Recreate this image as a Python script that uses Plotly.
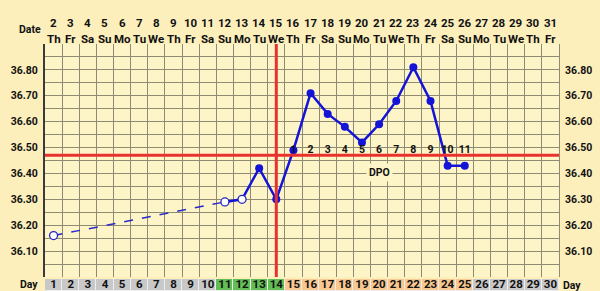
import plotly.graph_objects as go

# ---- data ----
days = list(range(1, 31))
dates = list(range(2, 32))
weekdays = ["Th", "Fr", "Sa", "Su", "Mo", "Tu", "We", "Th", "Fr", "Sa", "Su", "Mo", "Tu", "We",
            "Th", "Fr", "Sa", "Su", "Mo", "Tu", "We", "Th", "Fr", "Sa", "Su", "Mo", "Tu", "We", "Th", "Fr"]
temp_days = [1, 11, 12, 13, 14, 15, 16, 17, 18, 19, 20, 21, 22, 23, 24, 25]
temps = [36.16, 36.29, 36.30, 36.42, 36.30, 36.49, 36.71, 36.63, 36.58, 36.52, 36.59, 36.68,
         36.81, 36.68, 36.43, 36.43]
open_days = [1, 11, 12]
dpo_days = [15, 16, 17, 18, 19, 20, 21, 22, 23, 24, 25]
dpo_labels = [str(i) for i in range(1, 12)]
coverline = 36.47
ovulation_day = 14
phase = (["gray"] * 10) + (["fertile"] * 4) + (["luteal"] * 11) + (["gray"] * 5)
ytick_vals = [36.1, 36.2, 36.3, 36.4, 36.5, 36.6, 36.7, 36.8]
ygrid_vals = [36.0 + 0.05 * i for i in range(19)]

# ---- styles ----
PAPER = "#fcefbc"
PLOT = "#fdf5c8"
GRID = "#8f8a72"
BLUE = "#1414d6"
RED = "#e8322e"
phase_col = {"gray": "#c8c8c8", "fertile": "#62bd55", "luteal": "#f8c890"}
FONT = dict(family="Roboto", size=10.5, color="#111111", weight="bold")

def bf(size):
    return dict(family="Roboto", size=size, color="#111", weight="bold")

fig = go.Figure()

temp_map = dict(zip(temp_days, temps))
dash_x = [temp_days[0], temp_days[1]]
fig.add_trace(go.Scatter(x=dash_x, y=[temp_map[d] for d in dash_x], mode="lines",
                         line=dict(color="#2a2ac8", width=1.5, dash="dash"),
                         hoverinfo="skip", showlegend=False))
solid_x = temp_days[1:]
fig.add_trace(go.Scatter(x=solid_x, y=[temp_map[d] for d in solid_x], mode="lines",
                         line=dict(color=BLUE, width=2.5), showlegend=False))
fig.add_trace(go.Scatter(x=open_days, y=[temp_map[d] for d in open_days], mode="markers",
                         marker=dict(size=8, color="white", line=dict(color="#2424c0", width=1.3)),
                         showlegend=False))
filled = [d for d in temp_days if d not in open_days]
fig.add_trace(go.Scatter(x=filled, y=[temp_map[d] for d in filled], mode="markers",
                         marker=dict(size=8, color=BLUE), showlegend=False))
fig.add_trace(go.Scatter(x=dpo_days, y=[coverline] * len(dpo_days), mode="text",
                         text=dpo_labels, textposition="top center", textfont=bf(10.5),
                         showlegend=False, hoverinfo="skip"))
fig.add_trace(go.Scatter(x=[days[0]], y=[36.5], yaxis="y2", mode="markers",
                         marker=dict(opacity=0), showlegend=False, hoverinfo="skip"))
fig.add_trace(go.Bar(x=days, y=[1] * len(days), yaxis="y3", width=1,
                     marker=dict(color=[phase_col[p] for p in phase], line=dict(color="#eeeeee", width=1)),
                     showlegend=False, hoverinfo="skip"))
fig.add_trace(go.Scatter(x=days, y=[0.5] * len(days), yaxis="y3", mode="text",
                         text=[str(d) for d in days], textposition="middle center", textfont=bf(11.5),
                         showlegend=False, hoverinfo="skip", cliponaxis=False))

fig.add_shape(type="line", x0=ovulation_day, x1=ovulation_day, y0=36.0, y1=36.9, xref="x", yref="y",
              line=dict(color=RED, width=3))
fig.add_shape(type="line", x0=0.5, x1=30.5, y0=coverline, y1=coverline, xref="x", yref="y",
              line=dict(color=RED, width=3))

ann = []
for d, dt, wd in zip(days, dates, weekdays):
    ann.append(dict(x=d, y=1.122, xref="x", yref="paper", text=str(dt), showarrow=False, font=bf(11.5)))
    ann.append(dict(x=d, y=1.055, xref="x", yref="paper", text=wd, showarrow=False, font=bf(11.5)))
ann.append(dict(x=-0.004, y=1.092, xref="paper", yref="paper", xanchor="right", text="Date",
                showarrow=False, font=bf(10.5)))
ann.append(dict(x=-0.01, y=-0.01, xref="paper", yref="paper", xanchor="right", yanchor="bottom",
                text="Day", showarrow=False, font=bf(10.5)))
ann.append(dict(x=1.003, y=-0.012, xref="paper", yref="paper", xanchor="left", yanchor="bottom",
                text="Day", showarrow=False, font=bf(10.5)))
ann.append(dict(x=20, y=36.405, xref="x", yref="y", text="DPO", showarrow=False,
                bgcolor=PLOT, borderpad=2, font=bf(10.5)))

tick_text = ["%.2f" % v for v in ytick_vals]
fig.update_layout(
    width=600, height=291,
    margin=dict(l=45, r=41, t=44, b=0),
    paper_bgcolor=PAPER, plot_bgcolor=PLOT,
    annotations=ann, bargap=0,
    xaxis=dict(range=[0.5, 30.5], tick0=0.5, dtick=1, showgrid=True, gridcolor=GRID, gridwidth=1,
               showticklabels=False, zeroline=False, ticks="", anchor="y"),
    yaxis=dict(domain=[14 / 247, 1], range=[36.0, 36.9], tickvals=ytick_vals, ticktext=tick_text,
               showgrid=True, gridcolor=GRID, gridwidth=1, zeroline=False, ticks="",
               tickfont=FONT, ticklabelstandoff=3,
               minor=dict(tickvals=ygrid_vals, showgrid=True, gridcolor=GRID, gridwidth=1, ticks=""),
               showline=True, linecolor="#3a3a3a", linewidth=2),
    yaxis2=dict(domain=[14 / 247, 1], range=[36.0, 36.9], overlaying="y", side="right", anchor="x",
                tickvals=ytick_vals, ticktext=tick_text, showgrid=False, zeroline=False, ticks="",
                tickfont=FONT, ticklabelstandoff=3, showline=True, linecolor=GRID, linewidth=1),
    yaxis3=dict(domain=[0, 12 / 247], range=[0, 1], showgrid=False, zeroline=False,
                showticklabels=False, ticks="", anchor="x"),
)

fig.write_html("out.html")
